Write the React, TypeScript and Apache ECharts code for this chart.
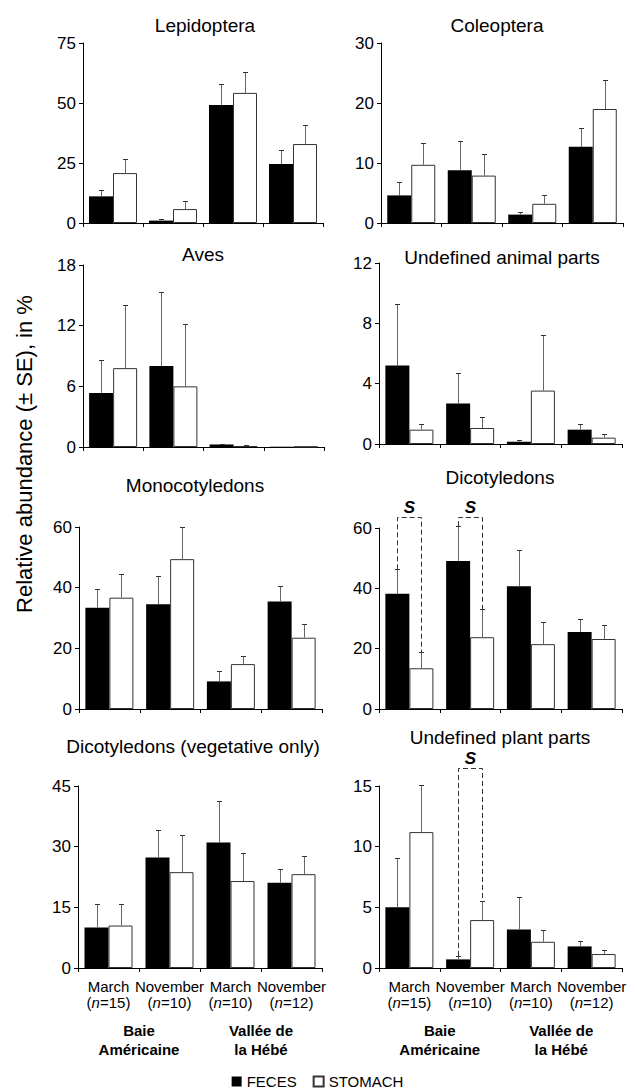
import React, { useEffect, useRef } from "react";
import * as echarts from "echarts";

// ---------- data ----------
const months = ["March", "November", "March", "November"];
const sampleSizes = [15, 10, 10, 12];
const sites = ["Baie\nAméricaine", "Vallée de\nla Hébé"];
const seriesNames = ["FECES", "STOMACH"];
const panelTitles = [
  "Lepidoptera",
  "Coleoptera",
  "Aves",
  "Undefined animal parts",
  "Monocotyledons",
  "Dicotyledons",
  "Dicotyledons (vegetative only)",
  "Undefined plant parts",
];

// means and standard errors (%), order: BA March, BA November, VH March, VH November
const lepidopteraFeces = [11.1, 1.0, 49.2, 24.6];
const lepidopteraFecesSE = [2.8, 0.5, 8.6, 5.7];
const lepidopteraStomach = [20.8, 5.8, 54.2, 32.9];
const lepidopteraStomachSE = [5.9, 3.2, 8.9, 7.8];

const coleopteraFeces = [4.6, 8.8, 1.4, 12.7];
const coleopteraFecesSE = [2.3, 4.8, 0.5, 3.2];
const coleopteraStomach = [9.7, 7.9, 3.2, 19.0];
const coleopteraStomachSE = [3.6, 3.6, 1.4, 4.9];

const avesFeces = [5.35, 8.0, 0.25, 0.03];
const avesFecesSE = [3.25, 7.3, 0.08, 0];
const avesStomach = [7.8, 6.0, 0.1, 0.03];
const avesStomachSE = [6.2, 6.2, 0.05, 0];

const animalFeces = [5.2, 2.68, 0.15, 0.95];
const animalFecesSE = [4.1, 2.0, 0.09, 0.4];
const animalStomach = [0.95, 1.06, 3.54, 0.42];
const animalStomachSE = [0.4, 0.74, 3.66, 0.22];

const monocotFeces = [33.4, 34.5, 9.1, 35.4];
const monocotFecesSE = [6.1, 9.2, 3.4, 5.1];
const monocotStomach = [36.7, 49.4, 14.8, 23.5];
const monocotStomachSE = [7.9, 10.6, 2.8, 4.4];

const dicotFeces = [38.2, 49.1, 40.7, 25.5];
const dicotFecesSE = [8.1, 11.5, 12.1, 4.3];
const dicotStomach = [13.5, 23.8, 21.5, 23.2];
const dicotStomachSE = [5.3, 9.3, 7.2, 4.6];

const vegFeces = [10.0, 27.3, 31.0, 21.1];
const vegFecesSE = [5.8, 6.9, 10.2, 3.5];
const vegStomach = [10.5, 23.7, 21.5, 23.2];
const vegStomachSE = [5.3, 9.3, 7.0, 4.6];

const plantFeces = [5.0, 0.71, 3.18, 1.78];
const plantFecesSE = [4.07, 0.28, 2.66, 0.44];
const plantStomach = [11.2, 3.95, 2.16, 1.15];
const plantStomachSE = [3.9, 1.61, 0.94, 0.33];

// y axis ranges [max, interval]
const axisMax = [75, 30, 18, 12, 60, 60, 45, 15];
const axisInterval = [25, 10, 6, 4, 20, 20, 15, 5];

// significant feces vs stomach differences (category indices) per panel
const significant: number[][] = [[], [], [], [], [], [0, 1], [], [1]];

// ---------- layout ----------
const FONT = "'Liberation Sans', Arial, Helvetica, sans-serif";
const BAR_W = 24;
const grids = [
  { left: 83, top: 43, width: 240, height: 180 },
  { left: 381, top: 43, width: 242, height: 180 },
  { left: 83, top: 265, width: 241, height: 182 },
  { left: 379, top: 263, width: 243, height: 181 },
  { left: 79, top: 527, width: 243, height: 182 },
  { left: 379, top: 528, width: 243, height: 181 },
  { left: 78, top: 786, width: 244, height: 182 },
  { left: 379, top: 786, width: 243, height: 182 },
];
const titlePos = [
  [205, 25],
  [497, 25],
  [203, 254],
  [502, 257],
  [195, 485],
  [500, 477],
  [193, 746],
  [500, 737],
];
// bracket top, in axis units (sits above the axis maximum)
const bracketTop = [0, 0, 0, 0, 0, 63.6, 0, 16.5];

const panelData = [
  [lepidopteraFeces, lepidopteraFecesSE, lepidopteraStomach, lepidopteraStomachSE],
  [coleopteraFeces, coleopteraFecesSE, coleopteraStomach, coleopteraStomachSE],
  [avesFeces, avesFecesSE, avesStomach, avesStomachSE],
  [animalFeces, animalFecesSE, animalStomach, animalStomachSE],
  [monocotFeces, monocotFecesSE, monocotStomach, monocotStomachSE],
  [dicotFeces, dicotFecesSE, dicotStomach, dicotStomachSE],
  [vegFeces, vegFecesSE, vegStomach, vegStomachSE],
  [plantFeces, plantFecesSE, plantStomach, plantStomachSE],
];

function buildOption() {
  const xAxis: any[] = [];
  const yAxis: any[] = [];
  const series: any[] = [];
  const graphic: any[] = [];

  panelData.forEach((pd, i) => {
    const bottomRow = i >= 6;
    xAxis.push({
      type: "category",
      gridIndex: i,
      data: months.map((m, k) => `${m}|${sampleSizes[k]}`),
      axisLine: { show: true, lineStyle: { color: "#000", width: 1 } },
      axisTick: { show: true, length: 4, lineStyle: { color: "#000" } },
      axisLabel: {
        show: bottomRow,
        interval: 0,
        margin: 10,
        color: "#000",
        fontFamily: FONT,
        fontSize: 15,
        lineHeight: 16,
        formatter: (v: string) => {
          const [m, n] = v.split("|");
          return `{t|${m}}\n{t|(}{i|n}{t|=${n})}`;
        },
        rich: {
          t: { fontFamily: FONT, fontSize: 15, lineHeight: 16, color: "#000" },
          i: { fontFamily: FONT, fontSize: 15, lineHeight: 16, fontStyle: "italic", color: "#000" },
        },
      },
      splitLine: { show: false },
    });
    yAxis.push({
      type: "value",
      gridIndex: i,
      min: 0,
      max: axisMax[i],
      interval: axisInterval[i],
      axisLine: { show: true, lineStyle: { color: "#000", width: 1 } },
      axisTick: { show: true, length: 4, lineStyle: { color: "#000" } },
      axisLabel: { color: "#000", fontFamily: FONT, fontSize: 17, margin: 7 },
      splitLine: { show: false },
    });

    const [f, fse, s, sse] = pd;
    series.push({
      type: "bar",
      name: seriesNames[0],
      xAxisIndex: i,
      yAxisIndex: i,
      data: f,
      barWidth: BAR_W,
      barGap: "0%",
      itemStyle: { color: "#000", borderColor: "#000", borderWidth: 0 },
      silent: true,
      z: 2,
    });
    series.push({
      type: "bar",
      name: seriesNames[1],
      xAxisIndex: i,
      yAxisIndex: i,
      data: s,
      barWidth: BAR_W,
      barGap: "0%",
      itemStyle: { color: "#fff", borderColor: "#333", borderWidth: 1 },
      silent: true,
      z: 2,
    });

    const errData: number[][] = [];
    f.forEach((v, k) => errData.push([k, v, fse[k], -1]));
    s.forEach((v, k) => errData.push([k, v, sse[k], 1]));
    series.push({
      type: "custom",
      xAxisIndex: i,
      yAxisIndex: i,
      silent: true,
      z: 4,
      encode: { x: 0, y: 1 },
      data: errData,
      renderItem: (params: any, api: any) => {
        const cat = api.value(0);
        const v = api.value(1);
        const se = api.value(2);
        const side = api.value(3);
        if (!(se > 0)) return null;
        const base = api.coord([cat, v]);
        const top = api.coord([cat, v + se]);
        const x = Math.round(base[0] + (side * BAR_W) / 2) + 0.5;
        const yt = Math.round(top[1]) + 0.5;
        return {
          type: "group",
          children: [
            {
              type: "line",
              shape: { x1: x, y1: base[1], x2: x, y2: yt },
              style: { stroke: "#666", lineWidth: 1 },
            },
            {
              type: "line",
              shape: { x1: x - 2.5, y1: yt, x2: x + 2.5, y2: yt },
              style: { stroke: "#333", lineWidth: 1 },
            },
          ],
        };
      },
    });

    if (significant[i].length) {
      const brData = significant[i].map((k) => [k, f[k] + fse[k], s[k] + sse[k], bracketTop[i]]);
      series.push({
        type: "custom",
        xAxisIndex: i,
        yAxisIndex: i,
        silent: true,
        clip: false,
        z: 5,
        encode: { x: 0, y: 1 },
        data: brData,
        renderItem: (params: any, api: any) => {
          const cat = api.value(0);
          const c = api.coord([cat, 0]);
          const xF = Math.round(c[0] - BAR_W / 2) + 0.5;
          const xS = Math.round(c[0] + BAR_W / 2) + 0.5;
          const yF = api.coord([cat, api.value(1)])[1];
          const yS = api.coord([cat, api.value(2)])[1];
          const yT = Math.round(api.coord([cat, api.value(3)])[1]) + 0.5;
          return {
            type: "group",
            children: [
              {
                type: "polyline",
                shape: { points: [[xF, yF], [xF, yT], [xS, yT], [xS, yS]] },
                style: { stroke: "#333", lineWidth: 1, lineDash: [5, 3], fill: null },
              },
              {
                type: "text",
                x: (xF + xS) / 2,
                y: yT - 2,
                style: {
                  text: "S",
                  font: `italic bold 17px ${FONT}`,
                  fill: "#000",
                  align: "center",
                  verticalAlign: "bottom",
                },
              },
            ],
          };
        },
      });
    }

    graphic.push({
      type: "text",
      x: titlePos[i][0],
      y: titlePos[i][1],
      silent: true,
      style: {
        text: panelTitles[i],
        font: `19px ${FONT}`,
        fill: "#000",
        align: "center",
        verticalAlign: "middle",
      },
    });
  });

  // site group axes for bottom panels
  [6, 7].forEach((g) => {
    xAxis.push({
      type: "category",
      gridIndex: g,
      position: "bottom",
      data: sites,
      axisLine: { show: false },
      axisTick: { show: false },
      axisLabel: {
        interval: 0,
        margin: 53,
        color: "#000",
        fontFamily: FONT,
        fontSize: 15,
        fontWeight: "bold",
        lineHeight: 19,
      },
      splitLine: { show: false },
    });
  });

  graphic.push({
    type: "text",
    x: 24,
    y: 454,
    rotation: Math.PI / 2,
    silent: true,
    style: {
      text: "Relative abundance (± SE), in %",
      font: `22px ${FONT}`,
      fill: "#000",
      align: "center",
      verticalAlign: "middle",
    },
  });

  return {
    animation: false,
    backgroundColor: "#fff",
    grid: grids.map((g) => ({ ...g, containLabel: false })),
    xAxis,
    yAxis,
    series,
    graphic,
    legend: {
      data: seriesNames,
      left: "center",
      top: 1074,
      padding: 0,
      icon: "rect",
      itemWidth: 10,
      itemHeight: 10,
      itemGap: 16,
      selectedMode: false,
      textStyle: { color: "#000", fontFamily: FONT, fontSize: 15 },
    },
  };
}

export default function App() {
  const ref = useRef<HTMLDivElement>(null);
  useEffect(() => {
    document.body.style.margin = "0";
    if (!ref.current) return;
    const chart = echarts.init(ref.current, null, { renderer: "svg" });
    chart.setOption(buildOption() as any);
    return () => chart.dispose();
  }, []);
  return <div ref={ref} style={{ width: 635, height: 1090 }} />;
}
